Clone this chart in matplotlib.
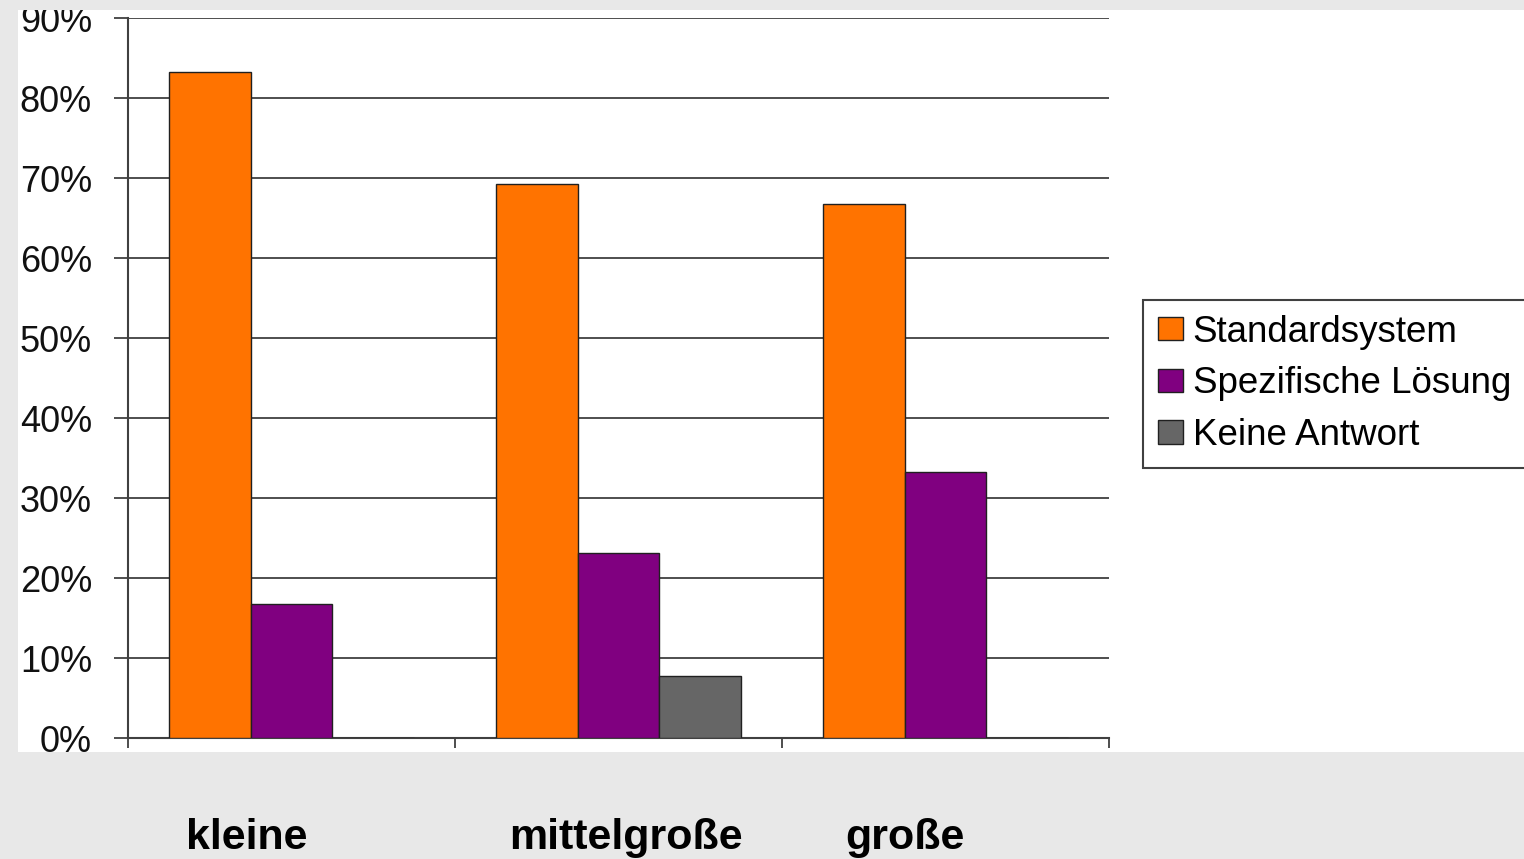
import matplotlib.pyplot as plt
from matplotlib.patches import Rectangle
from matplotlib.ticker import FuncFormatter

# data
categories = ["kleine", "mittelgroße", "große"]
series = ["Standardsystem", "Spezifische Lösung", "Keine Antwort"]
standardsystem = [0.833, 0.692, 0.667]
spezifische_loesung = [0.167, 0.231, 0.333]
keine_antwort = [0.0, 0.077, 0.0]
yticks = [0.0, 0.1, 0.2, 0.3, 0.4, 0.5, 0.6, 0.7, 0.8, 0.9]

colors = ["#ff7300", "#800080", "#666666"]
values = [standardsystem, spezifische_loesung, keine_antwort]

plt.rcParams['font.family'] = ['Liberation Sans', 'DejaVu Sans']

W, H = 1524, 859
fig = plt.figure(figsize=(W / 100, H / 100), dpi=100)
fig.patch.set_facecolor("#e8e8e8")

# white chart area on the grey slide (drawn before the axes)
white = Rectangle((18 / W, 1 - 752 / H), (W - 18) / W, (752 - 10) / H,
                  transform=fig.transFigure, facecolor="white",
                  edgecolor="none", zorder=-1)
fig.patches.append(white)

ax = fig.add_axes([128 / W, 1 - 738 / H, (1109 - 128) / W, (738 - 18) / H])
ax.set_facecolor("white")

width = 0.25
for k in range(len(series)):
    xs = [i + (k - 1) * width for i in range(len(categories))]
    ax.bar(xs, values[k], width=width, color=colors[k], edgecolor="#202020",
           linewidth=1, label=series[k], zorder=3)

ax.set_xlim(-0.5, len(categories) - 0.5)
ax.set_ylim(0, 0.9)
ax.set_yticks(yticks)
ax.yaxis.set_major_formatter(FuncFormatter(lambda v, p: "{:.0f}%".format(v * 100)))
ax.set_xticks([-0.5, 0.5, 1.5, 2.5])
ax.set_xticklabels([])

ax.grid(axis="y", color="#404040", linewidth=1.3)
ax.set_axisbelow(True)
for s in ["top", "right"]:
    ax.spines[s].set_visible(False)
for s in ["left", "bottom"]:
    ax.spines[s].set_color("#404040")
    ax.spines[s].set_linewidth(1.5)

ax.tick_params(axis="y", length=10, width=1.3, color="#404040", pad=16,
               labelsize=26, labelcolor="#111111")
ax.tick_params(axis="x", length=7, width=1.3, color="#404040")

# tick labels get cut at the edge of the white area
for lab in ax.get_yticklabels():
    lab.set_clip_path(white)

leg = ax.legend(loc="upper left", bbox_to_anchor=(1143 / W, 1 - 300 / H),
                bbox_transform=fig.transFigure, fontsize=26.5, frameon=True,
                fancybox=False, edgecolor="#404040", framealpha=1,
                borderaxespad=0, borderpad=0.4, handlelength=0.7,
                handleheight=0.6, handletextpad=0.25, labelspacing=0.45)
leg.get_frame().set_linewidth(1.5)

# category names sit below the chart on the grey area
label_x = [247, 626, 905]
for name, x in zip(categories, label_x):
    fig.text(x / W, 1 - 838 / H, name, ha="center", va="center",
             fontsize=31, fontweight="bold")

plt.savefig("out.png", dpi=100)
